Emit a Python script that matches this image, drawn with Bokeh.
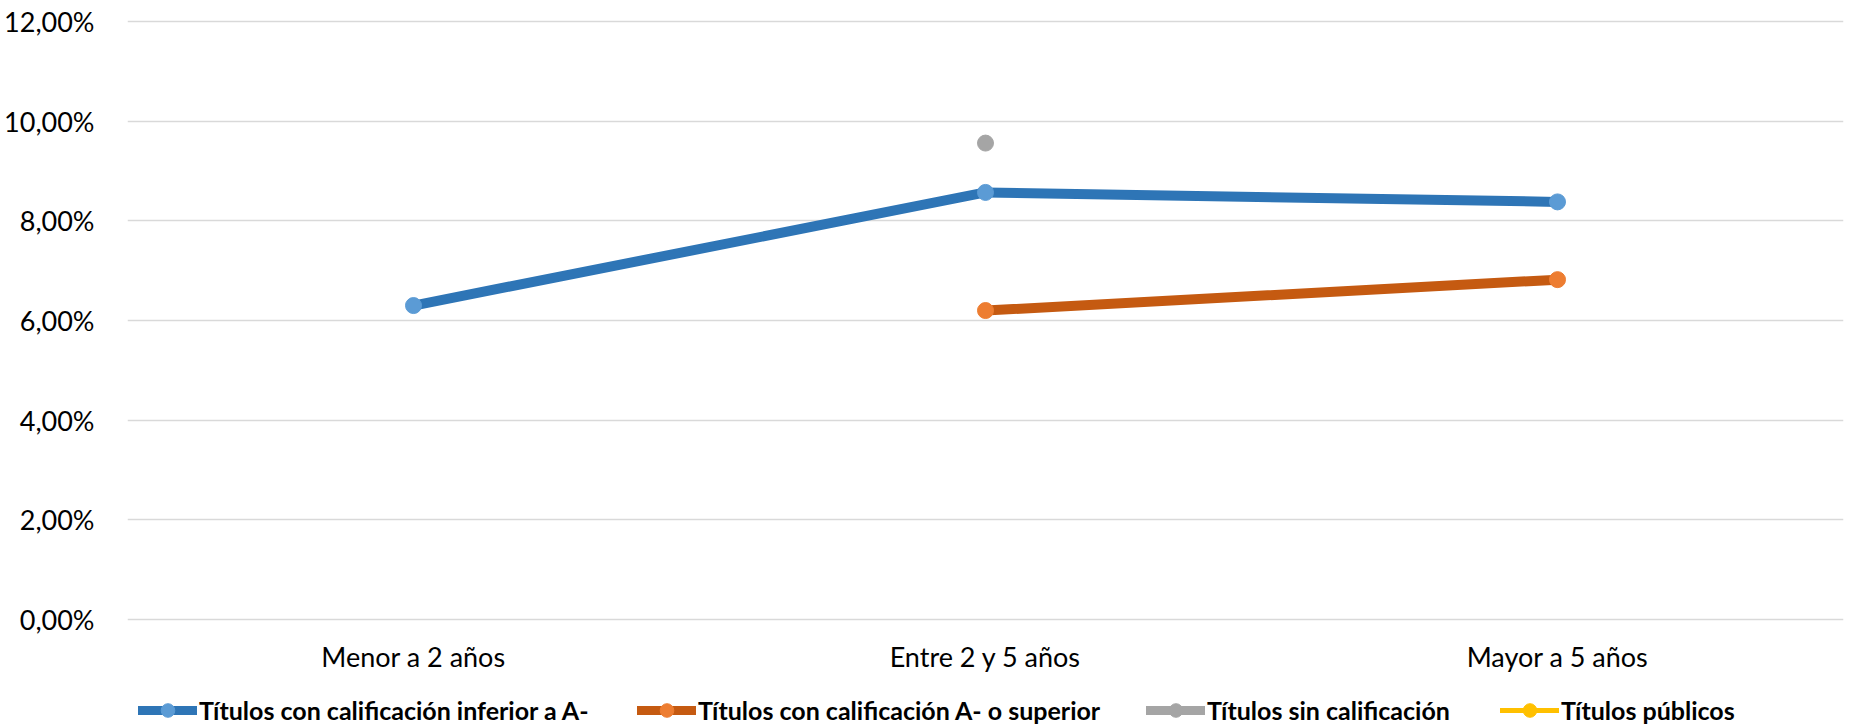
from bokeh.plotting import figure
from bokeh.layouts import column
from bokeh.models import (FactorRange, Range1d, CustomJSTickFormatter, FixedTicker,
                          Legend, LegendItem, ColumnDataSource)
from bokeh.embed import file_html
from bokeh.resources import INLINE

categories = ["Menor a 2 años", "Entre 2 y 5 años", "Mayor a 5 años"]
nan = float("nan")
inferior = [0.0630, 0.0857, 0.0838]
superior = [nan, 0.0620, 0.0682]
sin_calif = [nan, 0.0956, nan]
publicos = [nan, nan, nan]
series_names = ["Títulos con calificación inferior a A-",
                "Títulos con calificación A- o superior",
                "Títulos sin calificación",
                "Títulos públicos"]
y_ticks = [0.0, 0.02, 0.04, 0.06, 0.08, 0.10, 0.12]

FONT = "Lato"
W = 1849
H_MAIN, H_LEG = 675, 51

p = figure(width=W, height=H_MAIN, x_range=FactorRange(*categories, range_padding=0),
           y_range=Range1d(-0.0006, 0.1206), output_backend="svg", toolbar_location=None,
           min_border_left=127, min_border_right=6, min_border_top=18, min_border_bottom=53)
p.frame_align = False
p.outline_line_color = None
p.xgrid.grid_line_color = None
p.ygrid.grid_line_color = "#d9d9d9"
p.ygrid.grid_line_width = 1.5
p.yaxis.ticker = FixedTicker(ticks=y_ticks)
p.yaxis.formatter = CustomJSTickFormatter(code="return (tick*100).toFixed(2).replace('.', ',') + '%';")
for ax in (p.xaxis[0], p.yaxis[0]):
    ax.axis_line_color = None
    ax.major_tick_line_color = None
    ax.minor_tick_line_color = None
    ax.major_tick_out = 0
    ax.major_tick_in = 0
    ax.minor_tick_out = 0
    ax.minor_tick_in = 0
    ax.major_label_text_font = FONT
    ax.major_label_text_font_size = "27px"
    ax.major_label_text_color = "#000000"
p.yaxis.major_label_standoff = 33
p.xaxis.major_label_standoff = 17

styles = [
    (inferior, "#2E75B6", "#5B9BD5", 10, 9),
    (superior, "#C55A11", "#ED7D31", 10, 9),
    (sin_calif, "#A5A5A5", "#A5A5A5", 10, 9),
    (publicos, "#FFC000", "#FFC000", 3, 5),
]

# legend strip: same categorical x range, y range that keeps the data out of view
lf = figure(width=W, height=H_LEG, x_range=FactorRange(*categories, range_padding=0),
            y_range=Range1d(10, 11), output_backend="svg", toolbar_location=None,
            x_axis_location=None, y_axis_location=None, min_border=0)
lf.frame_align = False
lf.outline_line_color = None
lf.grid.grid_line_color = None

legend_x = [138, 637, 1146, 1500]
for (vals, lc, mc, lw, llw), name, lx in zip(styles, series_names, legend_x):
    src = ColumnDataSource(dict(x=categories, y=vals))
    p.line("x", "y", source=src, line_color=lc, line_width=lw, line_cap="round")
    p.scatter("x", "y", source=src, size=16, fill_color=mc, line_color=mc)
    r1 = lf.line("x", "y", source=src, line_color=lc, line_width=llw, line_cap="round")
    r2 = lf.scatter("x", "y", source=src, size=14, fill_color=mc, line_color=mc)
    leg = Legend(items=[LegendItem(label=name, renderers=[r1, r2])], location=(lx, -1),
                 margin=0, padding=0, border_line_alpha=0, background_fill_alpha=0,
                 glyph_width=59, glyph_height=34, label_height=34, label_standoff=2,
                 label_text_font=FONT, label_text_font_style="bold",
                 label_text_font_size="25px", label_text_color="#000000")
    lf.add_layout(leg, "center")

open("out.html", "w").write(file_html(column(p, lf, spacing=0), INLINE))
